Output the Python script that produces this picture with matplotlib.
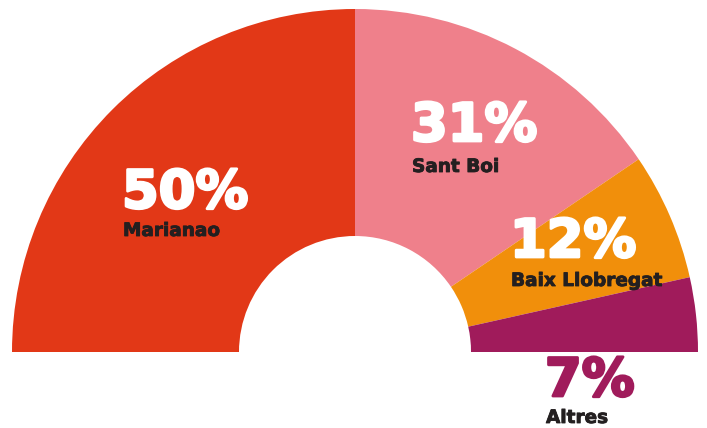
import matplotlib
matplotlib.use("Agg")
import matplotlib.pyplot as plt
import matplotlib.patheffects as pe

categories = ["Marianao", "Sant Boi", "Baix Llobregat", "Altres"]
values = [50, 31, 12, 7]
pct_labels = ["50%", "31%", "12%", "7%"]
colors = ["#E23817", "#EF808B", "#F18F0B", "#A01B5B"]

W, H = 707, 428
fig = plt.figure(figsize=(W / 100, H / 100), dpi=100)
ax = fig.add_axes([0, 0, 1, 1])

cx, cy = 355, H - 352
R_out, R_in = 343, 116

ax.pie(values + [sum(values)], colors=colors + ["none"], startangle=180,
       counterclock=False, radius=R_out, center=(cx, cy),
       wedgeprops=dict(width=R_out - R_in, linewidth=0), frame=True)
ax.set_xlim(0, W)
ax.set_ylim(0, H)
ax.set_aspect("equal")
ax.axis("off")

fam = ["DejaVu Sans"]
# label positions: (x, pct baseline, name baseline, pct color)
pos = [(122, 208, 236, "white"),
       (411, 141, 172, "white"),
       (510, 257, 286, "white"),
       (545, 396, 423, "#A01B5B")]
for (x, yb, nb, c), p, n in zip(pos, pct_labels, categories):
    ax.text(x, H - yb, p, fontsize=38, fontweight="bold", color=c,
            family=fam, ha="left", va="baseline",
            path_effects=[pe.withStroke(linewidth=2, foreground=c)])
    ax.text(x + 1, H - nb, n, fontsize=13.3, fontweight="bold", color="#231F20",
            family=fam, ha="left", va="baseline",
            path_effects=[pe.withStroke(linewidth=0.6, foreground="#231F20")])

fig.savefig("out.png", dpi=100)
